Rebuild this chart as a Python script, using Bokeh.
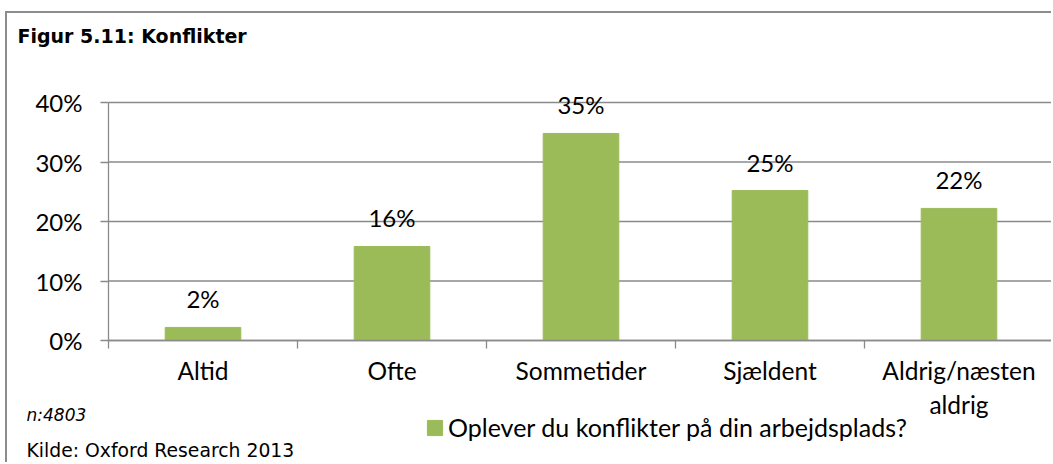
from bokeh.plotting import figure
from bokeh.models import (Range1d, FixedTicker, NumeralTickFormatter, LabelSet, Label,
                          ColumnDataSource, Legend, LegendItem)
from bokeh.embed import file_html
from bokeh.resources import INLINE
from bokeh.core.properties import value

# ---- data ----
categories = ["Altid", "Ofte", "Sommetider", "Sjældent", "Aldrig/næsten\naldrig"]
values = [0.022, 0.158, 0.348, 0.252, 0.222]
value_labels = ["2%", "16%", "35%", "25%", "22%"]
series_name = "Oplever du konflikter på din arbejdsplads?"
y_ticks = [0.0, 0.1, 0.2, 0.3, 0.4]
title_text = "Figur 5.11: Konflikter"
n_text = "n:4803"
source_text = "Kilde: Oxford Research 2013"

# ---- styling / layout constants ----
BAR = "#9BBB59"
GRID = "#8A8A8A"
LABEL_FONT = "Lato"
W, H = 1046, 451            # canvas size (whole canvas is the plot frame)
PX_LEFT, PX_RIGHT = 101, 1046   # screen x of category axis start / end
PY_ZERO, PY_TOP = 327, 89       # screen y of 0% and of the top tick

ncat = len(categories)
ymax = y_ticks[-1]
xscale = (PX_RIGHT - PX_LEFT) / ncat
yscale = (PY_ZERO - PY_TOP) / ymax
x_range = Range1d(-PX_LEFT / xscale, ncat + (W - PX_RIGHT) / xscale)
y_range = Range1d(-(H - PY_ZERO) / yscale, ymax + PY_TOP / yscale)

xs = [i + 0.5 for i in range(ncat)]
src = ColumnDataSource(dict(x=xs, top=values, label=value_labels))
grid_src = ColumnDataSource(dict(x0=[0] * len(y_ticks), x1=[ncat] * len(y_ticks),
                                 y=y_ticks))

p = figure(width=W, height=H, x_range=x_range, y_range=y_range,
           output_backend="svg", toolbar_location=None,
           min_border=0, min_border_left=0, min_border_right=0,
           min_border_top=0, min_border_bottom=0)
p.outline_line_color = None
p.background_fill_color = "white"
p.border_fill_color = "white"
p.xgrid.visible = False
p.ygrid.visible = False

# horizontal gridlines over the category span only
p.segment(x0="x0", x1="x1", y0="y", y1="y", source=grid_src,
          line_color=GRID, line_width=1.3)

# y axis drawn at x = 0
p.yaxis.fixed_location = 0
p.yaxis.bounds = (0, ymax)
p.yaxis.ticker = FixedTicker(ticks=y_ticks)
p.yaxis.formatter = NumeralTickFormatter(format="0%")
p.yaxis.axis_line_color = GRID
p.yaxis.axis_line_width = 1.3
p.yaxis.major_tick_line_color = GRID
p.yaxis.major_tick_line_width = 1.3
p.yaxis.major_tick_out = 8
p.yaxis.major_tick_in = 0
p.yaxis.minor_tick_line_color = None
p.yaxis.major_label_standoff = 18
p.yaxis.major_label_text_font = LABEL_FONT
p.yaxis.major_label_text_font_size = "24px"
p.yaxis.major_label_text_color = "black"

# x axis drawn at y = 0: labels at category centres, tick marks at boundaries
p.xaxis.fixed_location = 0
p.xaxis.bounds = (0, ncat)
p.xaxis.ticker = FixedTicker(ticks=xs, minor_ticks=list(range(ncat + 1)))
p.xaxis.major_label_overrides = {x: c for x, c in zip(xs, categories)}
p.xaxis.axis_line_color = GRID
p.xaxis.axis_line_width = 1.3
p.xaxis.major_tick_line_color = None
p.xaxis.major_tick_out = 0
p.xaxis.major_tick_in = 0
p.xaxis.minor_tick_line_color = GRID
p.xaxis.minor_tick_line_width = 1.3
p.xaxis.minor_tick_out = 8
p.xaxis.minor_tick_in = 0
p.xaxis.major_label_standoff = 7
p.xaxis.major_label_text_font = LABEL_FONT
p.xaxis.major_label_text_font_size = "24.5px"
p.xaxis.major_label_text_color = "black"

bars = p.vbar(x="x", top="top", width=0.4, source=src,
              fill_color=BAR, line_color=BAR)

p.add_layout(LabelSet(x="x", y="top", text="label", source=src, y_offset=19,
                      text_align="center", text_baseline="alphabetic",
                      text_font=value(LABEL_FONT), text_font_size="24px",
                      text_color="black"))

legend = Legend(items=[LegendItem(label=series_name, renderers=[bars])],
                location=(418, 22), orientation="horizontal",
                padding=0, margin=0, spacing=0,
                glyph_width=19, glyph_height=19, label_standoff=4,
                label_text_font=LABEL_FONT, label_text_font_size="25px",
                label_text_color="black",
                border_line_color=None, background_fill_alpha=0)
p.add_layout(legend)

p.add_layout(Label(x=10, y=H - 22, x_units="screen", y_units="screen",
                   text=title_text, text_font="DejaVu Sans", text_font_style="bold",
                   text_font_size="19px", text_color="black",
                   text_baseline="alphabetic"))
p.add_layout(Label(x=19, y=H - 401, x_units="screen", y_units="screen",
                   text=n_text, text_font="DejaVu Sans", text_font_style="italic",
                   text_font_size="17px", text_color="black",
                   text_baseline="alphabetic"))
p.add_layout(Label(x=19, y=H - 437, x_units="screen", y_units="screen",
                   text=source_text, text_font="DejaVu Sans",
                   text_font_size="18.8px", text_color="black",
                   text_baseline="alphabetic"))

p.styles = {"position": "relative", "left": "5px", "top": "11px",
            "border-left": "2px solid #8c8c8c", "border-top": "2px solid #8c8c8c"}

open("out.html", "w").write(file_html(p, INLINE))
